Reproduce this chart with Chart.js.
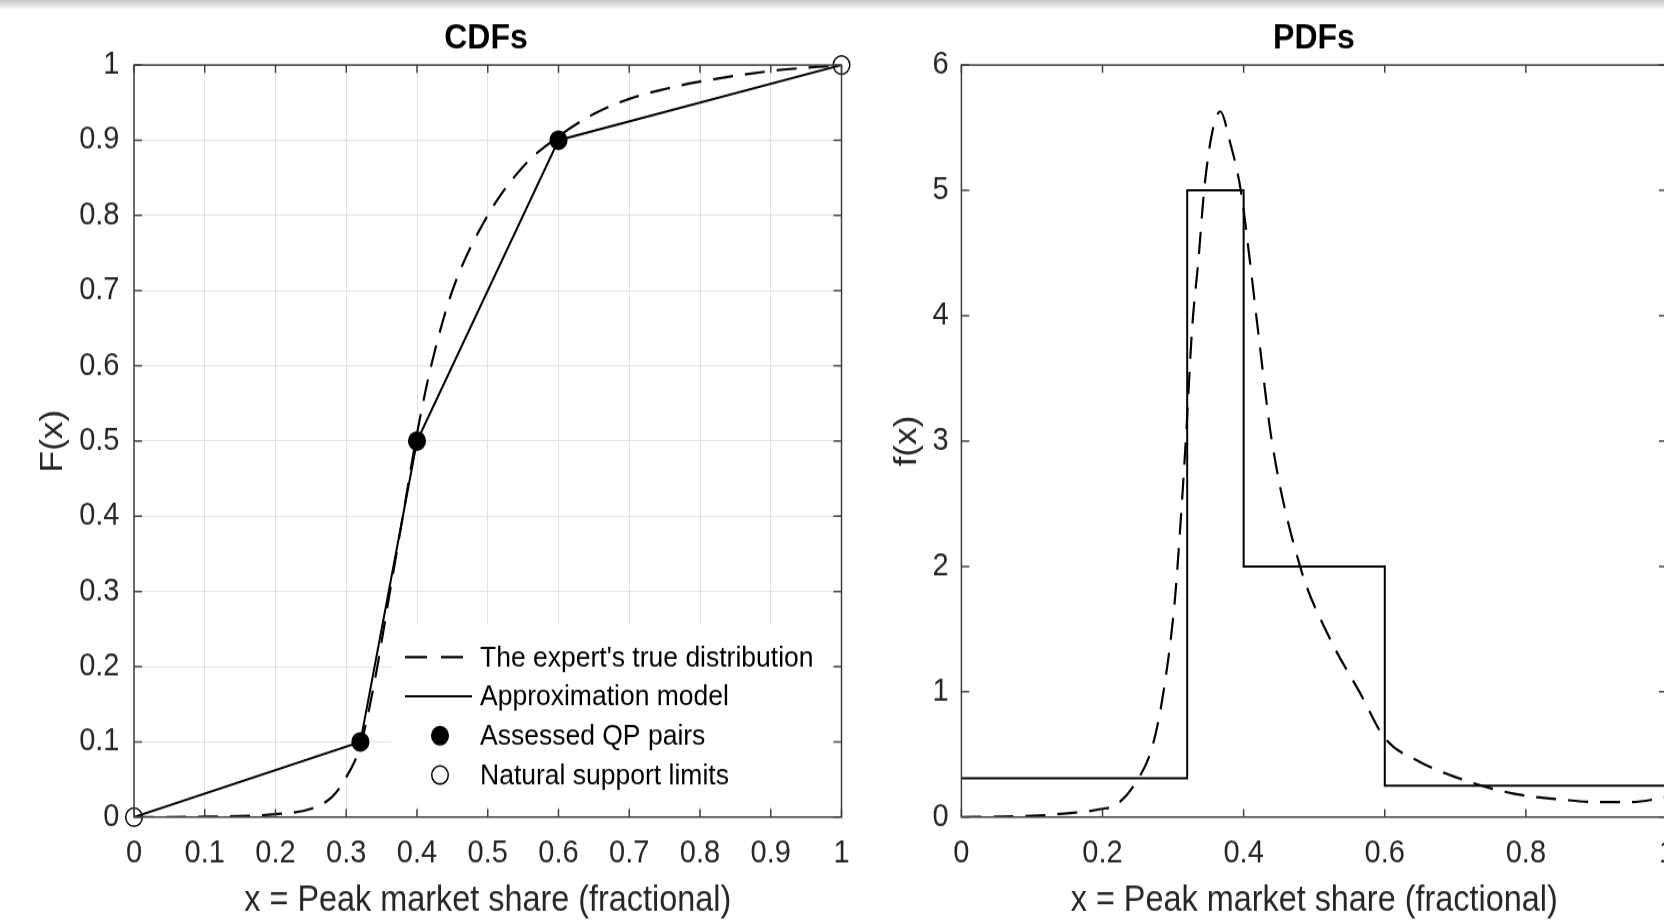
<!DOCTYPE html>
<html>
<head>
<meta charset="utf-8">
<title>CDFs and PDFs</title>
<script src="https://cdn.jsdelivr.net/npm/chart.js@4.4.1/dist/chart.umd.min.js"></script>
<style>
  html, body { margin: 0; padding: 0; background: #fff; overflow: hidden; width: 1664px; height: 921px; }
  #shade { position: absolute; left: 0; top: 0; width: 1664px; height: 10px; background: linear-gradient(#c4c4c4, #ffffff); z-index: 5; }
  /* the source figure is slightly stretched vertically */
  .box { position: absolute; top: 0; height: 837.27px; transform: scaleY(1.1); transform-origin: 0 0; }
  #cdfBox { left: 0; width: 972px; }
  #pdfBox { left: 870px; width: 888px; }
</style>
</head>
<body>
<div id="shade"></div>
<div class="box" id="cdfBox"><canvas id="cdfChart"></canvas></div>
<div class="box" id="pdfBox"><canvas id="pdfChart"></canvas></div>
<script>
// expert's true CDF (dashed)
const trueCdfX = [0, 0.1, 0.2, 0.25, 0.28, 0.3, 0.32, 0.34, 0.36, 0.38, 0.4, 0.42, 0.45, 0.5, 0.55, 0.6, 0.65, 0.7, 0.75, 0.8, 0.9, 1];
const trueCdfP = [0, 0.0005, 0.004, 0.011, 0.027, 0.053, 0.095, 0.18, 0.29, 0.4, 0.51, 0.6, 0.7, 0.8, 0.865, 0.905, 0.935, 0.955, 0.968, 0.978, 0.992, 1];

// approximation model through the assessed points
const approxX = [0, 0.32, 0.4, 0.6, 1];
const approxP = [0, 0.1, 0.5, 0.9, 1];

// assessed QP pairs and natural support limits
const qpX = [0.32, 0.4, 0.6];
const qpP = [0.1, 0.5, 0.9];
const limitX = [0, 1];
const limitP = [0, 1];

// expert's true PDF (dashed)
const truePdfX = [0, 0.05, 0.1, 0.15, 0.2, 0.22, 0.25, 0.27, 0.285, 0.302, 0.31, 0.318, 0.327, 0.336, 0.344, 0.355, 0.367, 0.38, 0.396, 0.409, 0.42, 0.44, 0.48, 0.52, 0.566, 0.6, 0.65, 0.7, 0.75, 0.8, 0.85, 0.9, 0.95, 1];
const truePdfY = [0, 0.003, 0.01, 0.03, 0.066, 0.1, 0.3, 0.55, 0.95, 1.7, 2.3, 3.0, 3.9, 4.45, 5.0, 5.45, 5.63, 5.4, 5.0, 4.43, 3.9, 3.0, 2.0, 1.45, 0.98, 0.63, 0.44, 0.32, 0.23, 0.17, 0.14, 0.12, 0.12, 0.16];

// step density of the approximation model
const binEdges = [0, 0.32, 0.4, 0.6, 1];
const binDensity = [0.31, 5, 2, 0.25];

// tick labels
const cdfTicksX = [0, 0.1, 0.2, 0.3, 0.4, 0.5, 0.6, 0.7, 0.8, 0.9, 1];
const cdfTicksY = [0, 0.1, 0.2, 0.3, 0.4, 0.5, 0.6, 0.7, 0.8, 0.9, 1];
const pdfTicksX = [0, 0.2, 0.4, 0.6, 0.8, 1];
const pdfTicksY = [0, 1, 2, 3, 4, 5, 6];

const S = 1.1; // vertical stretch applied by css
const FONT = '"Liberation Sans", Arial, sans-serif';
const TEXT = '#262626';
const FRAME = '#404040';
Chart.defaults.font.family = FONT;

function pts(xs, ys) {
  return xs.map((x, i) => ({x: x, y: ys[i]}));
}

// pdf steps: each bin starts at its left edge, last point closes the final bin
const stepPts = binEdges.slice(0, -1).map((x, i) => ({x: x, y: binDensity[i]}));
stepPts.push({x: binEdges[binEdges.length - 1], y: binDensity[binDensity.length - 1]});

// box around plot area + inward tick marks (matlab style)
const boxTicks = {
  id: 'boxTicks',
  afterDraw(chart) {
    const {ctx, chartArea: a, scales} = chart;
    const len = 8;
    ctx.save();
    ctx.strokeStyle = FRAME;
    ctx.lineWidth = 1.5;
    ctx.beginPath();
    scales.x.ticks.forEach(t => {
      const px = scales.x.getPixelForValue(t.value);
      ctx.moveTo(px, a.bottom); ctx.lineTo(px, a.bottom - len / S);
      ctx.moveTo(px, a.top); ctx.lineTo(px, a.top + len / S);
    });
    scales.y.ticks.forEach(t => {
      const py = scales.y.getPixelForValue(t.value);
      ctx.moveTo(a.left, py); ctx.lineTo(a.left + len, py);
      ctx.moveTo(a.right, py); ctx.lineTo(a.right - len, py);
    });
    ctx.stroke();
    ctx.strokeRect(a.left, a.top, a.right - a.left, a.bottom - a.top);
    ctx.restore();
  }
};

// legend drawn inside the lower right corner of the cdf axes
const insideLegend = {
  id: 'insideLegend',
  afterDatasetsDraw(chart) {
    const {ctx, chartArea: a} = chart;
    const r = a.right, b = a.bottom;
    ctx.save();
    ctx.fillStyle = '#fff';
    ctx.fillRect(r - 450, b - 193 / S, 442, 182 / S);
    ctx.font = '26.5px ' + FONT;
    ctx.textBaseline = 'middle';
    chart.data.datasets.forEach((ds, i) => {
      const y = b - (160 - i * 39.3) / S;
      ctx.strokeStyle = ds.borderColor;
      ctx.lineWidth = ds.borderWidth;
      if (ds.pointRadius > 0) {
        ctx.setLineDash([]);
        ctx.beginPath();
        ctx.arc(r - 401.5, y, ds.pointRadius, 0, Math.PI * 2);
        ctx.fillStyle = ds.backgroundColor;
        ctx.fill();
        ctx.stroke();
      } else {
        ctx.setLineDash(ds.borderDash ? [22, 14] : []);
        ctx.beginPath();
        ctx.moveTo(r - 436.5, y);
        ctx.lineTo(ds.borderDash ? r - 378.5 : r - 369.5, y);
        ctx.stroke();
      }
      ctx.setLineDash([]);
      ctx.fillStyle = '#000';
      ctx.fillText(ds.label, r - 361.5, y + 1);
    });
    ctx.restore();
  }
};

function tickSetter(list) {
  return s => { s.ticks = list.map(v => ({value: v})); };
}

const titleFont = { size: 32, weight: 'bold' };
const titlePad = { top: 16.2, bottom: 4.5 };
const axisTitleFont = { size: 32.4, lineHeight: 1.1 };

new Chart('cdfChart', {
  type: 'line',
  data: {
    datasets: [{
      label: "The expert's true distribution",
      data: pts(trueCdfX, trueCdfP),
      borderColor: '#000', borderWidth: 2.2, borderDash: [20, 12],
      pointRadius: 0, cubicInterpolationMode: 'monotone', order: 3
    }, {
      label: 'Approximation model',
      data: pts(approxX, approxP),
      borderColor: '#000', borderWidth: 2,
      pointRadius: 0, tension: 0, order: 2
    }, {
      label: 'Assessed QP pairs',
      data: pts(qpX, qpP),
      showLine: false, borderColor: '#000', backgroundColor: '#000', borderWidth: 1.5,
      pointRadius: 8.3, clip: false, order: 1
    }, {
      label: 'Natural support limits',
      data: pts(limitX, limitP),
      showLine: false, borderColor: '#000', backgroundColor: 'rgba(0,0,0,0)', borderWidth: 1.5,
      pointRadius: 8.3, clip: false, order: 0
    }]
  },
  options: {
    responsive: true,
    maintainAspectRatio: false,
    animation: false,
    plugins: {
      legend: { display: false },
      tooltip: { enabled: false },
      title: { display: true, text: 'CDFs', color: '#000', font: titleFont, padding: titlePad }
    },
    scales: {
      x: {
        type: 'linear', min: 0, max: 1,
        afterBuildTicks: tickSetter(cdfTicksX),
        afterFit: s => { s.height = 94.5; },
        grid: { color: '#e2e2e2', drawTicks: false },
        border: { display: false },
        ticks: { padding: 15.4, color: TEXT, font: { size: 29 }, maxRotation: 0, callback: v => String(v) },
        title: { display: true, text: 'x = Peak market share (fractional)', color: TEXT, font: axisTitleFont, padding: { top: 0, bottom: 0 } }
      },
      y: {
        type: 'linear', min: 0, max: 1,
        afterBuildTicks: tickSetter(cdfTicksY),
        afterFit: s => { s.width = 134; },
        grid: { color: '#e2e2e2', drawTicks: false },
        border: { display: false },
        ticks: { padding: 14.5, color: TEXT, font: { size: 29 }, callback: v => String(v) },
        title: { display: true, text: 'F(x)', color: TEXT, font: { size: 32 }, padding: { top: 34.3, bottom: 0 } }
      },
      pad: {
        type: 'linear', position: 'right', display: true,
        grid: { display: false, drawTicks: false },
        border: { display: false },
        ticks: { display: false },
        afterFit: s => { s.width = 130.5; }
      }
    }
  },
  plugins: [insideLegend, boxTicks]
});

new Chart('pdfChart', {
  type: 'line',
  data: {
    datasets: [{
      label: "The expert's true distribution",
      data: pts(truePdfX, truePdfY),
      borderColor: '#000', borderWidth: 2.2, borderDash: [20, 12],
      pointRadius: 0, cubicInterpolationMode: 'monotone', order: 2
    }, {
      label: 'Approximation model',
      data: stepPts,
      borderColor: '#000', borderWidth: 2,
      pointRadius: 0, stepped: 'before', order: 1
    }]
  },
  options: {
    responsive: true,
    maintainAspectRatio: false,
    animation: false,
    plugins: {
      legend: { display: false },
      tooltip: { enabled: false },
      title: { display: true, text: 'PDFs', color: '#000', font: titleFont, padding: titlePad }
    },
    scales: {
      x: {
        type: 'linear', min: 0, max: 1,
        afterBuildTicks: tickSetter(pdfTicksX),
        afterFit: s => { s.height = 94.5; },
        grid: { display: false, drawTicks: false },
        border: { display: false },
        ticks: { padding: 15.4, color: TEXT, font: { size: 29 }, maxRotation: 0, callback: v => String(v) },
        title: { display: true, text: 'x = Peak market share (fractional)', color: TEXT, font: axisTitleFont, padding: { top: 0, bottom: 0 } }
      },
      y: {
        type: 'linear', min: 0, max: 6,
        afterBuildTicks: tickSetter(pdfTicksY),
        afterFit: s => { s.width = 91.4; },
        grid: { display: false, drawTicks: false },
        border: { display: false },
        ticks: { padding: 12.7, color: TEXT, font: { size: 29 }, callback: v => String(v) },
        title: { display: true, text: 'f(x)', color: TEXT, font: { size: 32 }, padding: { top: 17.8, bottom: 0 } }
      },
      pad: {
        type: 'linear', position: 'right', display: true,
        grid: { display: false, drawTicks: false },
        border: { display: false },
        ticks: { display: false },
        afterFit: s => { s.width = 91; }
      }
    }
  },
  plugins: [boxTicks]
});
</script>
</body>
</html>
